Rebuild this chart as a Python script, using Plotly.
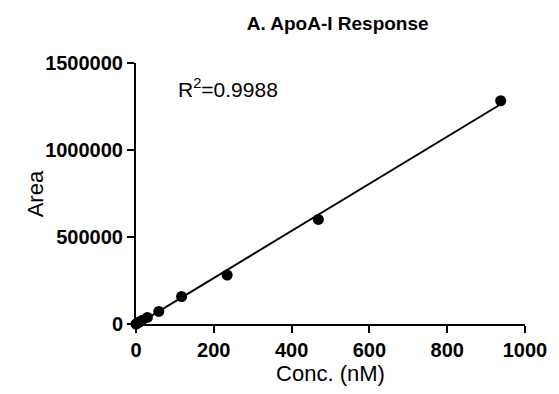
import numpy as np
import plotly.graph_objects as go

# Calibration standards: concentration (nM) and measured peak area
conc_nm = [0, 3.66, 7.32, 14.65, 29.3, 58.6, 117.2, 234.4, 468.75, 937.5]
area = [0, 5000, 10000, 20000, 38000, 72000, 158000, 281000, 601000, 1283000]

x_ticks = [0, 200, 400, 600, 800, 1000]
y_ticks = [0, 500000, 1000000, 1500000]

r2_label = "R<sup>2</sup>=0.9988"
title_text = "<b>A. ApoA-I Response</b>"

# Linear least-squares fit through the standards
slope, intercept = np.polyfit(conc_nm, area, 1)
fit_x = np.array([min(conc_nm), max(conc_nm)])
fit_y = slope * fit_x + intercept

FONT = "Arial, Liberation Sans, Helvetica, sans-serif"
W, H = 559, 394
ML, MR, MT, MB = 136, 27, 63, 69

fig = go.Figure()
fig.add_trace(go.Scatter(
    x=fit_x, y=fit_y, mode="lines",
    line=dict(color="black", width=2),
    cliponaxis=False, hoverinfo="skip", showlegend=False,
))
fig.add_trace(go.Scatter(
    x=conc_nm, y=area, mode="markers",
    marker=dict(color="black", size=11, line=dict(width=0)),
    cliponaxis=False, showlegend=False,
))

axis_common = dict(
    showgrid=False, zeroline=False,
    showline=True, linecolor="black", linewidth=2,
    ticks="outside", ticklen=7, tickwidth=2, tickcolor="black",
    tickfont=dict(family=FONT, size=20, color="black", weight="bold"),
)

fig.update_xaxes(
    range=[0, 1000], tickvals=x_ticks, ticktext=[str(v) for v in x_ticks],
    title=dict(text="Conc. (nM)", font=dict(family=FONT, size=22, color="black"),
               standoff=6),
    **axis_common,
)
fig.update_yaxes(
    range=[0, 1500000], tickvals=y_ticks, ticktext=[str(v) for v in y_ticks],
    **axis_common,
)

# y-axis title placed as a rotated annotation
plot_w = W - ML - MR
fig.add_annotation(
    x=(34 - ML) / plot_w, y=0.5, xref="paper", yref="paper",
    xanchor="center", yanchor="middle", showarrow=False, textangle=-90,
    text="Area", font=dict(family=FONT, size=22, color="black"),
)

fig.add_annotation(
    x=0.103, y=0.845, xref="paper", yref="paper",
    xanchor="left", yanchor="bottom", showarrow=False,
    text=r2_label, font=dict(family=FONT, size=21, color="black"),
)

fig.update_layout(
    width=W, height=H,
    margin=dict(l=ML, r=MR, t=MT, b=MB),
    paper_bgcolor="white", plot_bgcolor="white",
    title=dict(text=title_text, x=0.604, xanchor="center",
               y=1 - 23 / H, yanchor="middle", yref="container",
               font=dict(family=FONT, size=19, color="black")),
)

fig.write_html("out.html")
